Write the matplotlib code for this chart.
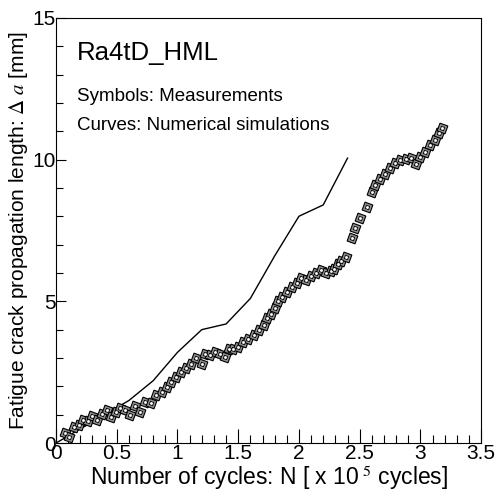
import matplotlib.pyplot as plt
from matplotlib.ticker import MultipleLocator

plt.rcParams['font.family'] = ['Liberation Sans', 'DejaVu Sans']
plt.rcParams['mathtext.fontset'] = 'stix'

# Measurements (symbols)
meas_n = [0.07, 0.11, 0.15, 0.19, 0.22, 0.26, 0.30, 0.34, 0.38, 0.42,
          0.45, 0.49, 0.53, 0.57, 0.61, 0.65, 0.69, 0.73, 0.78, 0.82,
          0.87, 0.91, 0.95, 0.99, 1.03, 1.07, 1.11, 1.15, 1.20, 1.23,
          1.27, 1.31, 1.35, 1.39, 1.42, 1.46, 1.50, 1.54, 1.58, 1.63,
          1.67, 1.71, 1.74, 1.77, 1.80, 1.83, 1.86, 1.90, 1.94, 1.98,
          2.02, 2.06, 2.10, 2.14, 2.18, 2.22, 2.26, 2.29, 2.32, 2.35,
          2.39, 2.44, 2.46, 2.50, 2.56, 2.60, 2.63, 2.67, 2.71, 2.75,
          2.79, 2.83, 2.88, 2.92, 2.96, 3.00, 3.04, 3.08, 3.12, 3.15, 3.18]
meas_da = [0.36, 0.20, 0.55, 0.65, 0.82, 0.78, 0.95, 0.80, 1.02, 1.18,
           0.92, 1.10, 1.25, 1.15, 0.98, 1.32, 1.10, 1.45, 1.40, 1.68,
           1.80, 1.98, 2.15, 2.32, 2.50, 2.66, 2.80, 3.00, 2.78, 3.15,
           3.10, 3.20, 3.15, 3.02, 3.30, 3.32, 3.38, 3.56, 3.66, 3.80,
           3.98, 4.15, 4.40, 4.55, 4.78, 5.02, 5.15, 5.32, 5.50, 5.66,
           5.82, 5.75, 5.90, 6.00, 6.10, 6.00, 6.08, 6.15, 6.30, 6.42,
           6.56, 7.23, 7.58, 7.95, 8.34, 8.85, 9.10, 9.32, 9.50, 9.70,
           9.88, 9.98, 10.02, 10.05, 9.85, 10.10, 10.28, 10.50, 10.70, 10.92, 11.10]

# Numerical simulation (curve)
sim_n = [0.0, 0.2, 0.4, 0.6, 0.8, 1.0, 1.2, 1.4, 1.6, 1.8, 2.0, 2.2, 2.4]
sim_da = [0.0, 0.5, 1.0, 1.5, 2.2, 3.2, 4.0, 4.2, 5.1, 6.6, 8.0, 8.4, 10.05]

fig = plt.figure(figsize=(4.96, 4.95), dpi=100)
ax = fig.add_axes([0.113, 0.105, 0.857, 0.859])

ax.plot(sim_n, sim_da, color='black', linewidth=1.0)
ax.plot(meas_n, meas_da, linestyle='none', marker=(4, 0, 25), markersize=8.5,
        markerfacecolor='#8c8c8c', markeredgecolor='black', markeredgewidth=0.8)
ax.plot(meas_n, meas_da, linestyle='none', marker=(4, 0, 25), markersize=3.5,
        markerfacecolor='white', markeredgecolor='black', markeredgewidth=0.6)

ax.set_xlim(0, 3.5)
ax.set_ylim(0, 15)
ax.xaxis.set_minor_locator(MultipleLocator(0.1))
ax.yaxis.set_minor_locator(MultipleLocator(1))
ax.set_xticks([0, 0.5, 1, 1.5, 2, 2.5, 3, 3.5])
ax.set_xticklabels(['0', '0.5', '1', '1.5', '2', '2.5', '3', '3.5'])
ax.set_yticks([0, 5, 10, 15])
ax.set_yticklabels(['0', '5', '10', '15'])

ax.tick_params(axis='x', which='major', direction='in', length=10, width=0.8, labelsize=15, pad=1)
ax.tick_params(axis='x', which='minor', direction='in', length=5.5, width=0.8)
ax.tick_params(axis='y', which='major', direction='in', length=7, width=0.8, labelsize=15, pad=0)
ax.tick_params(axis='y', which='minor', direction='in', length=5, width=0.8)
for s in ax.spines.values():
    s.set_linewidth(0.8)

ax.set_xlabel(r'Number of cycles: N [ x 10$^{\ 5}$ cycles]', fontsize=16.5, labelpad=0)
ax.set_ylabel(r'Fatigue crack propagation length: $\Delta\ a$ [mm]', fontsize=15, labelpad=2)

ax.text(0.05, 0.9, 'Ra4tD_HML', transform=ax.transAxes, fontsize=18.5)
ax.text(0.05, 0.805, 'Symbols: Measurements', transform=ax.transAxes, fontsize=13.5)
ax.text(0.05, 0.737, 'Curves: Numerical simulations', transform=ax.transAxes, fontsize=13.5)

fig.savefig('out.png', dpi=100)
